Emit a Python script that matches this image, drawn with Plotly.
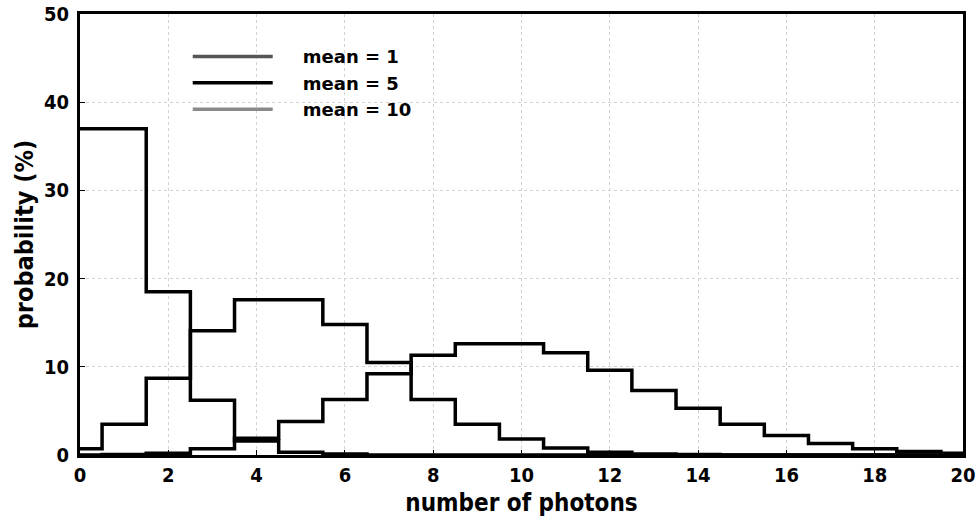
import plotly.graph_objects as go

photons = list(range(0, 21))
mean1 = [37.0, 37.0, 18.5, 6.2, 1.6, 0.3, 0.1, 0, 0, 0, 0, 0, 0, 0, 0, 0, 0, 0, 0, 0, 0]
mean5 = [0.7, 3.5, 8.7, 14.1, 17.6, 17.6, 14.8, 10.5, 6.3, 3.5, 1.8, 0.8, 0.3, 0.1, 0.05, 0, 0, 0, 0, 0, 0]
mean10 = [0, 0.05, 0.2, 0.7, 1.9, 3.8, 6.3, 9.2, 11.3, 12.6, 12.6, 11.6, 9.6, 7.3, 5.3, 3.5, 2.2, 1.3, 0.7, 0.4, 0.2]
series_names = ["mean = 1", "mean = 5", "mean = 10"]
legend_colors = ["#555555", "#000000", "#8a8a8a"]
x_ticks = list(range(0, 21, 2))
y_ticks = [0, 10, 20, 30, 40, 50]

FONT = "DejaVu Sans Condensed, DejaVu Sans, sans-serif"
LEG_FONT = "DejaVu Sans, sans-serif"
PAD = "\u00a0\u00a0\u00a0\u00a0"

fig = go.Figure()
for name, vals in zip(series_names, [mean1, mean5, mean10]):
    fig.add_trace(go.Scatter(x=photons, y=vals, mode="lines", line=dict(shape="hvh", color="black", width=3.5),
                             showlegend=False, name=name))
for name, col in zip(series_names, legend_colors):
    fig.add_trace(go.Scatter(x=[None], y=[None], mode="lines", line=dict(color=col, width=3.5), name=PAD + name))

fig.update_layout(
    width=976, height=525,
    margin=dict(l=80, r=13, t=14, b=70, autoexpand=False),
    paper_bgcolor="white", plot_bgcolor="white",
    font=dict(family=FONT, size=20, color="black", weight="bold"),
    showlegend=True,
    legend=dict(x=0.122, y=0.945, xanchor="left", yanchor="top", bgcolor="rgba(0,0,0,0)",
                font=dict(size=18, family=LEG_FONT, weight="bold"), itemwidth=80, tracegroupgap=0),
    xaxis=dict(range=[0, 20], tickvals=x_ticks, showgrid=True, gridcolor="#d2d2d2", griddash="dot", gridwidth=1,
               showline=True, linecolor="black", linewidth=3, mirror=True, ticks="inside", ticklen=5,
               tickcolor="black", zeroline=False, ticklabelstandoff=0, ticklabeloverflow="allow",
               title=dict(text="number of photons", font=dict(size=24, family=FONT, weight="bold"), standoff=9)),
    yaxis=dict(range=[0, 50], tickvals=y_ticks, showgrid=True, gridcolor="#d2d2d2", griddash="dot", gridwidth=1,
               showline=True, linecolor="black", linewidth=3, mirror=True, ticks="inside", ticklen=5,
               tickcolor="black", zeroline=False, ticklabelstandoff=4, ticklabeloverflow="allow",
               title=dict(text="probability (%)", font=dict(size=25, family=FONT, weight="bold"), standoff=4)),
)

fig.write_html("out.html", config={"displayModeBar": False},
               post_script="document.body.style.margin='0';")
